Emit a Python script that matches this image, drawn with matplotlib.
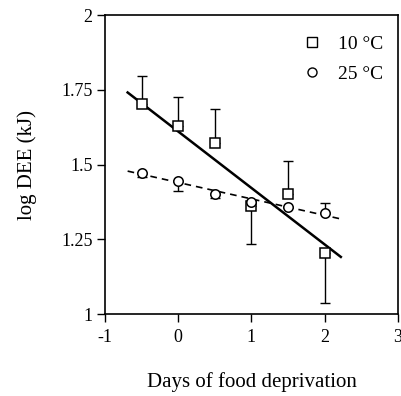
import matplotlib
matplotlib.use("Agg")
import matplotlib.pyplot as plt
from matplotlib.lines import Line2D

plt.rcParams['font.family'] = ['Liberation Serif', 'DejaVu Serif']

days = [-0.5, 0, 0.5, 1, 1.5, 2]
dee10 = [1.701, 1.629, 1.573, 1.362, 1.403, 1.204]
err10_up = [0.095, 0.098, 0.114, 0.0, 0.109, 0.0]
err10_dn = [0.0, 0.0, 0.0, 0.128, 0.0, 0.166]
dee25 = [1.472, 1.445, 1.403, 1.376, 1.357, 1.338]
err25_up = [0.0, 0.0, 0.0, 0.0, 0.0, 0.033]
err25_dn = [0.015, 0.032, 0.016, 0.0, 0.0, 0.0]

fit_x = [-0.69, 2.22]
fit10 = [1.741, 1.191]
fit25 = [1.478, 1.318]

xticks = [-1, 0, 1, 2, 3]
yticks = [1, 1.25, 1.5, 1.75, 2]
yticklabels = ['1', '1.25', '1.5', '1.75', '2']

fig = plt.figure(figsize=(4.02, 3.96), dpi=100)
ax = fig.add_axes([0.261, 0.207, 0.729, 0.755])

ax.plot(fit_x, fit10, color='black', lw=1.8, zorder=2)
ax.plot(fit_x, fit25, color='black', lw=1.2, ls=(0, (4, 3)), zorder=2)

ax.errorbar(days, dee10, yerr=[err10_dn, err10_up], fmt='none', ecolor='black',
            elinewidth=1.0, capsize=3.5, capthick=1.0, zorder=3)
ax.errorbar(days, dee25, yerr=[err25_dn, err25_up], fmt='none', ecolor='black',
            elinewidth=1.0, capsize=3.5, capthick=1.0, zorder=3)
ax.plot(days, dee10, ls='none', marker='s', ms=6.8, mfc='white', mec='black', mew=1.1, zorder=4)
ax.plot(days, dee25, ls='none', marker='o', ms=6.8, mfc='white', mec='black', mew=1.1, zorder=4)

ax.set_xlim(-1, 3)
ax.set_ylim(1, 2)
ax.set_xticks(xticks)
ax.set_xticklabels([str(t) for t in xticks])
ax.set_yticks(yticks)
ax.set_yticklabels(yticklabels)
ax.tick_params(direction='out', length=5.5, width=1, labelsize=13)
ax.tick_params(axis='x', pad=5.5)
ax.tick_params(axis='y', pad=3.5)
for s in ax.spines.values():
    s.set_linewidth(1.2)

ax.set_ylabel('log DEE (kJ)', fontsize=15, labelpad=17)
ax.set_xlabel('Days of food deprivation', fontsize=15, labelpad=18.5)

handles = [Line2D([], [], ls='none', marker='s', ms=6.5, mfc='white', mec='black', mew=1.0),
           Line2D([], [], ls='none', marker='o', ms=6.5, mfc='white', mec='black', mew=1.0)]
ax.legend(handles, ['10 °C', '25 °C'], loc='upper right', frameon=False, fontsize=14,
          handletextpad=0.75, labelspacing=0.65, borderaxespad=0.37, handlelength=1.2,
          bbox_to_anchor=(1.0, 1.0 - 5 / 299))

fig.savefig('out.png', dpi=100)
